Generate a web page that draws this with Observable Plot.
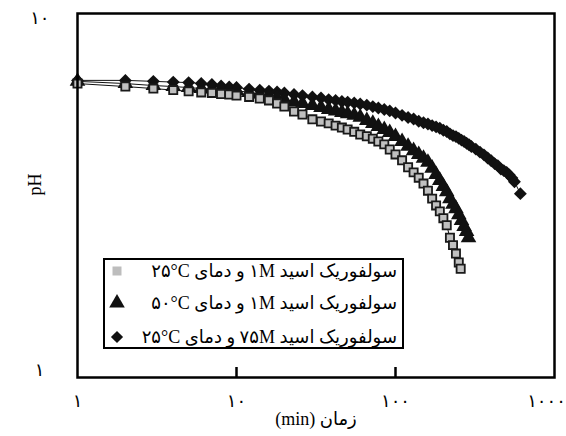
<!DOCTYPE html>
<html>
<head>
<meta charset="utf-8">
<script src="https://cdn.jsdelivr.net/npm/d3@7"></script>
<script src="https://cdn.jsdelivr.net/npm/@observablehq/plot@0.6"></script>
<style>
  body { margin: 0; background: #fff; }
  #wrap { position: relative; width: 566px; height: 436px; }
  #legend {
    position: absolute; left: 103px; top: 258px; width: 297px; height: 87px;
    border: 2.5px solid #000; background: #fff;
    font-family: "Liberation Serif", "DejaVu Sans", serif; font-size: 18px; color: #000;
  }
  .row { position: absolute; left: 0; right: 0; height: 26px; }
  .row .lbl { position: absolute; right: 5px; top: 0; height: 26px; line-height: 26px; direction: rtl; white-space: nowrap; }
  .row svg { position: absolute; left: 3px; top: 2px; }
</style>
</head>
<body>
<div id="wrap">
  <div id="chart"></div>
  <div id="legend"></div>
</div>
<script>
// ---- data ----
const seriesNames = [
  "سولفوریک اسید ۱M و دمای \u2066۲۵°C\u2069",
  "سولفوریک اسید ۱M و دمای \u2066۵۰°C\u2069",
  "سولفوریک اسید ۷۵M و دمای \u2066۲۵°C\u2069"
];

const xTicks = [1, 10, 100, 1000];
const xTickLabels = ["۱", "۱۰", "۱۰۰", "۱۰۰۰"];
const yTicks = [1, 10];
const yTickLabels = ["۱", "۱۰"];
const innerTicks = [10, 100];
const xTitle = "زمان (min)";
const yTitle = "pH";

// series A: squares (1M, 25°C)
const timeA = [1,2,3,4,5,6,7,8,9,10,12,14,16,18,20,23,26,30,34,38,42,46,50,55,60,66,72,78,85,92,100,110,120,130,140,150,160,170,180,190,200,210,220,230,240,250,257];
const phA = [6.42,6.30,6.22,6.16,6.11,6.07,6.05,6.01,5.99,5.95,5.90,5.84,5.77,5.66,5.55,5.38,5.28,5.12,5.05,4.99,4.92,4.86,4.80,4.73,4.65,4.60,4.53,4.45,4.37,4.23,4.10,3.95,3.78,3.66,3.54,3.41,3.26,3.10,2.97,2.86,2.74,2.62,2.42,2.31,2.19,2.07,1.99];

// series B: triangles (1M, 50°C)
const timeB = [1,2,3,4,5,6,7,8,9,10,12,14,16,18,20,23,26,30,34,38,42,46,50,55,60,66,72,78,85,92,100,110,120,130,140,150,160,170,180,190,200,210,220,230,240,250,260,270,280,288];
const phB = [6.51,6.42,6.34,6.30,6.26,6.22,6.20,6.18,6.16,6.14,6.07,6.01,5.94,5.86,5.80,5.71,5.66,5.59,5.52,5.45,5.40,5.35,5.30,5.25,5.19,5.08,4.99,4.89,4.80,4.71,4.59,4.45,4.32,4.20,4.10,4.00,3.90,3.76,3.61,3.48,3.35,3.24,3.10,2.99,2.91,2.80,2.70,2.60,2.52,2.42];

// series C: diamonds (75M, 25°C)
const timeC = [1,2,3,4,5,6,7,8,9,10,12,14,16,18,20,23,26,30,34,38,42,46,50,55,60,66,72,78,85,92,100,110,120,130,140,150,160,170,180,190,200,210,220,230,240,250,260,270,280,290,300,320,340,360,380,400,420,440,460,480,500,520,540,560,610];
const phC = [6.55,6.55,6.51,6.48,6.46,6.42,6.38,6.32,6.28,6.26,6.20,6.16,6.12,6.09,6.05,5.99,5.95,5.90,5.86,5.80,5.77,5.73,5.71,5.68,5.64,5.60,5.55,5.50,5.45,5.40,5.33,5.25,5.18,5.13,5.06,5.01,4.97,4.92,4.88,4.84,4.78,4.74,4.67,4.62,4.59,4.54,4.49,4.45,4.40,4.36,4.31,4.24,4.16,4.09,4.01,3.94,3.87,3.82,3.74,3.70,3.66,3.60,3.53,3.45,3.20];

const toRows = (ts, ps) => ts.map((t, i) => ({t, ph: ps[i]}));
const dataA = toRows(timeA, phA);
const dataB = toRows(timeB, phB);
const dataC = toRows(timeC, phC);

const xLabel = d => xTickLabels[xTicks.indexOf(d)];
const yLabel = d => yTickLabels[yTicks.indexOf(d)];

const plot = Plot.plot({
  width: 566,
  height: 436,
  marginTop: 13,
  marginBottom: 59,
  marginLeft: 77,
  marginRight: 12,
  x: {type: "log", domain: [1, 1000]},
  y: {type: "log", domain: [1, 10]},
  style: {fontFamily: "'DejaVu Sans', sans-serif", fontSize: "18px", background: "#fff", color: "#000"},
  marks: [
    Plot.axisX(xTicks.slice(0, 3), {tickFormat: xLabel, tickSize: 0, tickPadding: 17, label: null, fontSize: 18}),
    Plot.axisX(xTicks.slice(3), {tickFormat: xLabel, tickSize: 0, tickPadding: 17, label: null, fontSize: 18, dx: -8}),
    Plot.axisY(yTicks.slice(1), {tickFormat: yLabel, tickSize: 0, tickPadding: 28, label: null, fontSize: 18, dy: 5}),
    Plot.axisY(yTicks.slice(0, 1), {tickFormat: yLabel, tickSize: 0, tickPadding: 33, label: null, fontSize: 18, dy: -7}),
    Plot.tickX(innerTicks, {x: d => d, insetTop: 354, stroke: "#000", strokeWidth: 2.5}),
    Plot.line(dataC, {x: "t", y: "ph", stroke: "#111", strokeWidth: 1}),
    Plot.line(dataB, {x: "t", y: "ph", stroke: "#111", strokeWidth: 1}),
    Plot.line(dataA, {x: "t", y: "ph", stroke: "#111", strokeWidth: 1}),
    Plot.dot(dataC, {x: "t", y: "ph", symbol: "diamond2", r: 5.8, fill: "#111", stroke: "none"}),
    Plot.dot(dataB, {x: "t", y: "ph", symbol: "triangle", r: 5.8, fill: "#111", stroke: "none"}),
    Plot.dot(dataA, {x: "t", y: "ph", symbol: "square", r: 4.6, fill: "#c0c0c0", stroke: "#1a1a1a", strokeWidth: 1.8}),
    Plot.frame({stroke: "#000", strokeWidth: 2.5}),
    Plot.text([xTitle], {text: d => d, frameAnchor: "bottom", dy: 47, fontSize: 18, fontFamily: "'Liberation Serif', 'DejaVu Sans', serif"}),
    Plot.text([yTitle], {text: d => d, frameAnchor: "left", dx: -42, rotate: -90, fontSize: 18, fontFamily: "'Liberation Serif', serif"})
  ]
});

d3.select(plot).selectAll("text").each(function() {
  if (/[\u0621-\u064A\u067E-\u06CC]/.test(this.textContent)) d3.select(this).attr("direction", "rtl");
});

document.getElementById("chart").appendChild(plot);

// ---- legend ----
const legendSymbols = [
  {sym: d3.symbolSquare, size: 81, fill: "#bdbdbd"},
  {sym: d3.symbolTriangle, size: 105, fill: "#111"},
  {sym: d3.symbolDiamond2, size: 95, fill: "#111"}
];
const rowTops = [-2, 30, 64];
const legend = document.getElementById("legend");
seriesNames.forEach((name, i) => {
  const row = document.createElement("div");
  row.className = "row";
  row.style.top = rowTops[i] + "px";
  const s = d3.create("svg").attr("width", 20).attr("height", 22);
  s.append("path")
    .attr("transform", "translate(9,11)")
    .attr("d", d3.symbol(legendSymbols[i].sym, legendSymbols[i].size)())
    .attr("fill", legendSymbols[i].fill);
  row.appendChild(s.node());
  const lbl = document.createElement("div");
  lbl.className = "lbl";
  lbl.textContent = name;
  row.appendChild(lbl);
  legend.appendChild(row);
});
</script>
</body>
</html>
